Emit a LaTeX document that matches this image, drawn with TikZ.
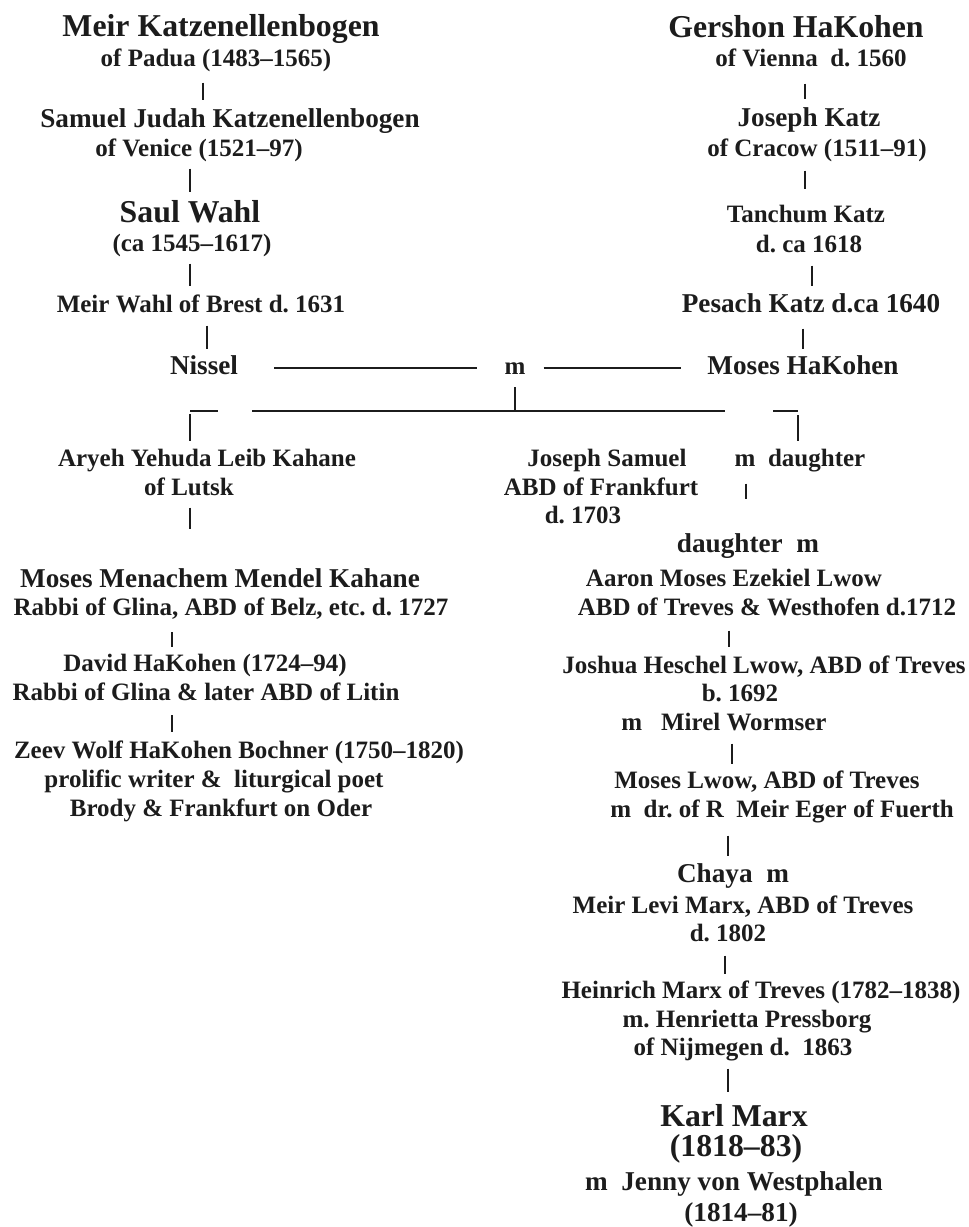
\documentclass[tikz,border=0pt]{standalone}
\usepackage{fontspec}
\setmainfont{Liberation Serif}
\frenchspacing
\definecolor{ink}{RGB}{28,28,28}
\tikzset{
  txt/.style={anchor=base, inner sep=0pt, text=ink, font=\bfseries\fontsize{25}{29}\selectfont},
  mid/.style={txt, font=\bfseries\fontsize{27.2}{31}\selectfont},
  big/.style={txt, font=\bfseries\fontsize{31.8}{36}\selectfont},
  link/.style={draw=ink, line width=1.6pt},
  desc/.style={link, line width=1.3pt},
  descb/.style={link, line width=2.6pt},
}
\begin{document}
\begin{tikzpicture}[x=1pt,y=1pt,yscale=-1,xscale=1]
	\useasboundingbox (0,0) rectangle (969,1227);

	% Text Node
	\draw (221,36) node [big] (mk) {Meir Katzenellenbogen};
	% Text Node
	\draw (216,66) node [txt] (pad) {of Padua (1483--1565)};
	% Text Node
	\draw (230,127) node [mid] (sjk) {Samuel Judah Katzenellenbogen};
	% Text Node
	\draw (199,156) node [txt] (ven) {of Venice (1521--97)};
	% Text Node
	\draw (190,222) node [big] (sw) {Saul Wahl};
	% Text Node
	\draw (192,251) node [txt] (swd) {(ca 1545--1617)};
	% Text Node
	\draw (201,312) node [txt] (mwb) {Meir Wahl of Brest d. 1631};
	% Text Node
	\draw (204,374) node [mid] (nis) {Nissel};
	% Text Node
	\draw (515,374) node [txt] (m) {m};
	% Text Node
	\draw (803,374) node [mid] (mhk) {Moses HaKohen};

	% Text Node
	\draw (796,37) node [big] (gh) {Gershon HaKohen};
	% Text Node
	\draw (811,66) node [txt] (vie) {of Vienna~~d. 1560};
	% Text Node
	\draw (809,126) node [mid] (jk) {Joseph Katz};
	% Text Node
	\draw (817,156) node [txt] (cra) {of Cracow (1511--91)};
	% Text Node
	\draw (806,222) node [txt] (tk) {Tanchum Katz};
	% Text Node
	\draw (809,252) node [txt] (tkd) {d. ca 1618};
	% Text Node
	\draw (811,312) node [mid] (pk) {Pesach Katz d.ca 1640};

	% Text Node
	\draw (207,466) node [txt] (ay) {Aryeh Yehuda Leib Kahane};
	% Text Node
	\draw (189,495) node [txt] (lut) {of Lutsk};
	% Text Node
	\draw (607,466) node [txt] (js) {Joseph Samuel};
	% Text Node
	\draw (601,495) node [txt] (abf) {ABD of Frankfurt};
	% Text Node
	\draw (583,523) node [txt] (jsd) {d. 1703};
	% Text Node
	\draw (800,466) node [txt] (md) {m~~daughter};

	% Text Node
	\draw (220,587) node [mid] (mmk) {Moses Menachem Mendel Kahane};
	% Text Node
	\draw (231,615) node [txt] (rg) {Rabbi of Glina, ABD of Belz, etc. d. 1727};
	% Text Node
	\draw (205,671) node [txt] (dhk) {David HaKohen (1724--94)};
	% Text Node
	\draw (206,700) node [txt] (rgl) {Rabbi of Glina \& later ABD of Litin};
	% Text Node
	\draw (239,758) node [txt] (zw) {Zeev Wolf HaKohen Bochner (1750--1820)};
	% Text Node
	\draw (214,787) node [txt] (pw) {prolific writer \&~~liturgical poet};
	% Text Node
	\draw (221,816) node [txt] (bf) {Brody \& Frankfurt on Oder};

	% Text Node
	\draw (748,552) node [mid] (dm) {daughter~~m};
	% Text Node
	\draw (734,586) node [txt] (am) {Aaron Moses Ezekiel Lwow};
	% Text Node
	\draw (767,615) node [txt] (atw) {ABD of Treves \& Westhofen d.1712};
	% Text Node
	\draw (764,673) node [txt] (jh) {Joshua Heschel Lwow, ABD of Treves};
	% Text Node
	\draw (740,701) node [txt] (jhb) {b. 1692};
	% Text Node
	\draw (724,730) node [txt] (mw) {m~~~Mirel Wormser};
	% Text Node
	\draw (767,788) node [txt] (ml) {Moses Lwow, ABD of Treves};
	% Text Node
	\draw (782,817) node [txt] (me) {m~~dr. of R~~Meir Eger of Fuerth};
	% Text Node
	\draw (733,882) node [mid] (ch) {Chaya~~m};
	% Text Node
	\draw (743,913) node [txt] (mlm) {Meir Levi Marx, ABD of Treves};
	% Text Node
	\draw (728,941) node [txt] (mlmd) {d. 1802};
	% Text Node
	\draw (761,998) node [txt] (hm) {Heinrich Marx of Treves (1782--1838)};
	% Text Node
	\draw (747,1027) node [txt] (hp) {m. Henrietta Pressborg};
	% Text Node
	\draw (743,1055) node [txt] (nij) {of Nijmegen d.~~1863};
	% Text Node
	\draw (734,1126) node [big] (km) {Karl Marx};
	% Text Node
	\draw (736,1156) node [big] (kmd) {(1818--83)};
	% Text Node
	\draw (734,1190) node [mid] (jw) {m~~Jenny von Westphalen};
	% Text Node
	\draw (741,1221) node [mid] (jwd) {(1814--81)};

	%Straight Lines
	\draw [desc, shorten <=11, shorten >=8] ([xshift=-13]pad.south) -- ([xshift=-13]pad.south |- sjk.north);
	\draw [desc, shorten <=7, shorten >=8] ([xshift=-9]ven.south) -- ([xshift=-9]ven.south |- sw.north);
	\draw [desc, shorten <=7, shorten >=8] ([xshift=-2]swd.south) -- ([xshift=-2]swd.south |- mwb.north);
	\draw [descb, shorten <=13, shorten >=6] ([xshift=6]mwb.south) -- ([xshift=6]mwb.south |- nis.north);
	%Straight Lines
	\draw [desc, shorten <=17, shorten >=8] ([xshift=-6]vie.south) -- ([xshift=-6]vie.south |- jk.north);
	\draw [desc, shorten <=9, shorten >=15] ([xshift=-12]cra.south) -- ([xshift=-12]cra.south |- tk.north);
	\draw [desc, shorten <=13, shorten >=7] ([xshift=3]tkd.south) -- ([xshift=3]tkd.south |- pk.north);
	\draw [descb, shorten <=16, shorten >=6] ([xshift=-8]pk.south) -- ([xshift=-8]pk.south |- mhk.north);

	%Straight Lines
	\draw [link, shorten <=36, shorten >=27] (m.west -| nis.east) -- (m.west);
	\draw [link, shorten <=18, shorten >=26] (m.east) -- (m.east -| mhk.west);
	\coordinate (sibl) at (252,411);
	\coordinate (sibr) at (725,411);
	\coordinate (lda) at (190,411);
	\coordinate (ldb) at (218,411);
	\coordinate (rda) at (773,411);
	\coordinate (rdb) at (798,411);
	\draw [link, shorten <=13] (m.south) -- (m.south |- sibl);
	\draw [link] (sibl) -- (sibr);
	\draw [link] (lda) -- (ldb);
	\draw [link] (rda) -- (rdb);
	\draw [desc, shorten <=3, shorten >=7] (lda) -- (lda |- ay.north);
	\draw [desc, shorten <=4, shorten >=7] (rdb) -- (rdb |- md.north);

	%Straight Lines
	\draw [desc, shorten <=12, shorten >=39] ([xshift=1]lut.south) -- ([xshift=1]lut.south |- mmk.north);
	\draw [desc, shorten <=13, shorten >=6] ([xshift=-59]rg.south) -- ([xshift=-59]rg.south |- dhk.north);
	\draw [desc, shorten <=15, shorten >=8] ([xshift=-34]rgl.south) -- ([xshift=-34]rgl.south |- zw.north);
	\draw [desc, shorten <=12, shorten >=34] ([xshift=-54]md.south) -- ([xshift=-54]md.south |- dm.north);

	%Straight Lines
	\draw [desc, shorten <=15, shorten >=8] ([xshift=-38]atw.south) -- ([xshift=-38]atw.south |- jh.north);
	\draw [desc, shorten <=13, shorten >=6] ([xshift=8]mw.south) -- ([xshift=8]mw.south |- ml.north);
	\draw [descb, shorten <=13, shorten >=7] ([xshift=-54]me.south) -- ([xshift=-54]me.south |- ch.north);
	\draw [desc, shorten <=14, shorten >=6] ([xshift=-3]mlmd.south) -- ([xshift=-3]mlmd.south |- hm.north);
	\draw [descb, shorten <=8, shorten >=12] ([xshift=-15]nij.south) -- ([xshift=-15]nij.south |- km.north);

\end{tikzpicture}
\end{document}
